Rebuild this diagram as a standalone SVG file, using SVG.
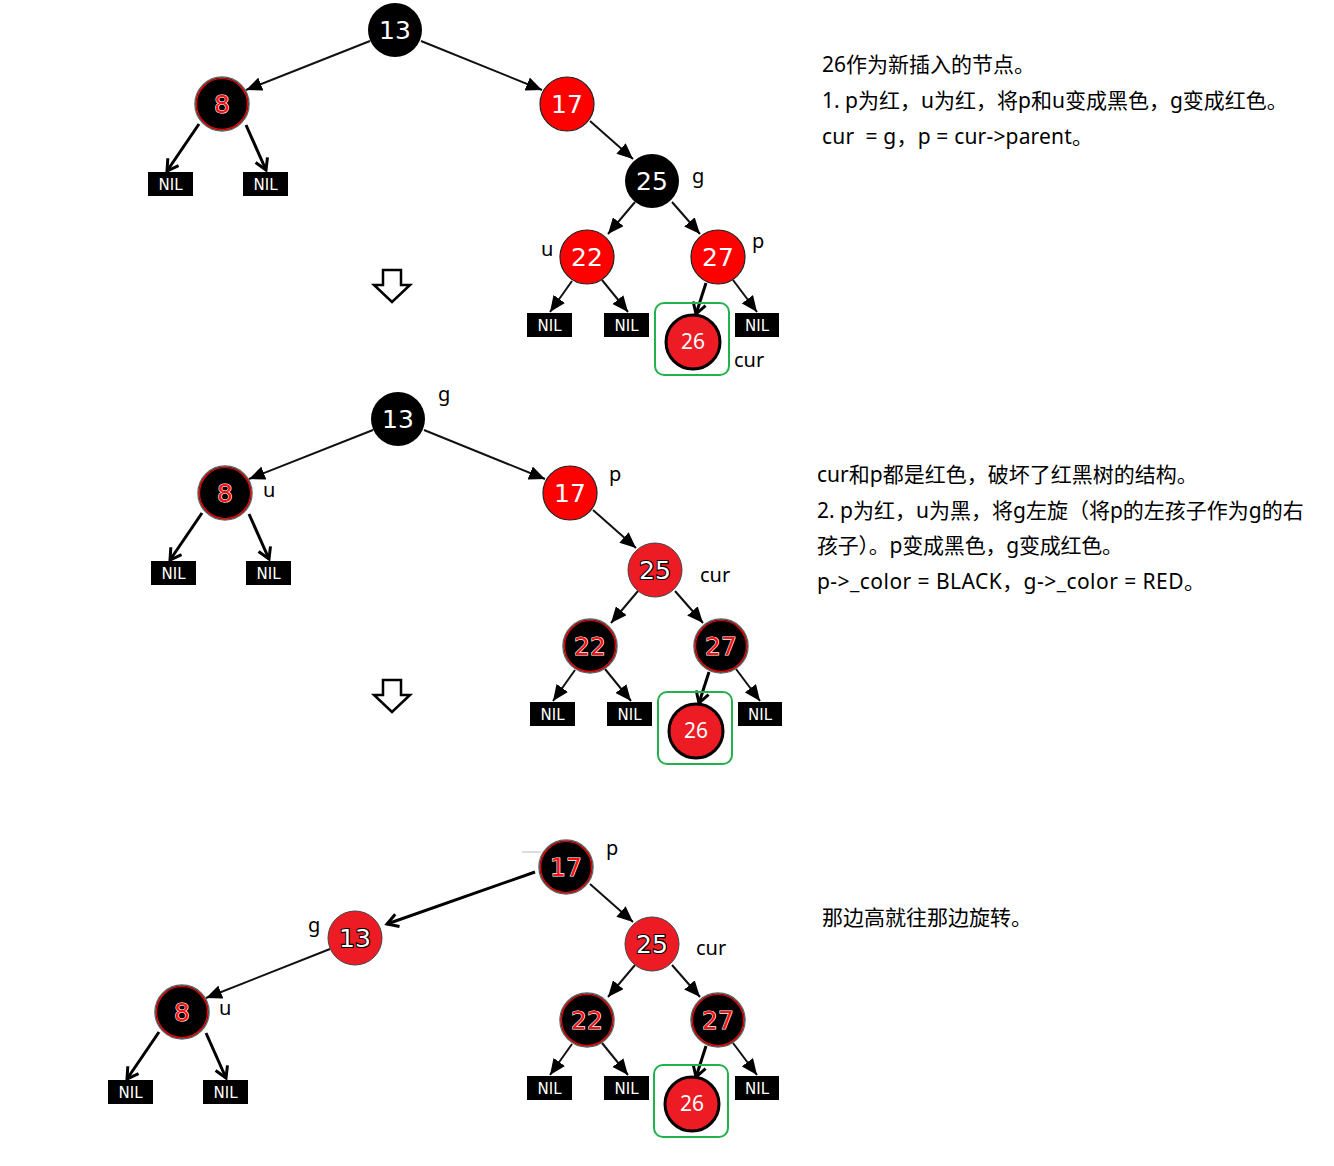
<svg xmlns="http://www.w3.org/2000/svg" width="1334" height="1166" viewBox="0 0 1334 1166">
<style>
.bg{fill:#fff}
.e{stroke:#111;stroke-width:2;fill:none;marker-end:url(#ah)}
.v{stroke:#000;stroke-width:3;fill:none;marker-end:url(#av)}
.nt{font-family:"DejaVu Sans",sans-serif;font-size:25px;text-anchor:middle}
.w{fill:#fff}
.rt{fill:#ff1010;stroke:#fff;stroke-width:1.2;paint-order:stroke}
.ot{fill:#fff;stroke:#000;stroke-width:2.2;paint-order:stroke}
.cA{fill:#000}
.cB{fill:#ff0000;stroke:#222;stroke-width:1.2}
.cC{fill:#000;stroke:#666;stroke-width:1.5}
.ring{fill:none;stroke:#ff0000;stroke-width:1.2}
.cD{fill:#ed1c24;stroke:#444;stroke-width:1}
.cE{fill:#ed1c24;stroke:#000;stroke-width:3}
.t26{font-family:"Noto Sans","DejaVu Sans",sans-serif;font-size:21px;text-anchor:middle;fill:#fff}
.nil{fill:#000}
.nilt{font-family:"DejaVu Sans",sans-serif;font-size:15px;fill:#fff;text-anchor:middle}
.box{fill:none;stroke:#22b14c;stroke-width:2}
.lb{font-family:"Noto Sans","Noto Sans CJK SC",sans-serif;font-size:20px;fill:#000}
.tx{font-family:"Noto Sans","Noto Sans CJK SC",sans-serif;font-size:21px;fill:#000}
.da{fill:#fff;stroke:#000;stroke-width:2.5;stroke-linejoin:miter}
</style>
<defs>
<marker id="ah" markerUnits="userSpaceOnUse" markerWidth="17" markerHeight="14" refX="16" refY="7" orient="auto"><path d="M0,0 L16,7 L0,14 z" fill="#000"/></marker>
<marker id="av" markerUnits="userSpaceOnUse" markerWidth="16" markerHeight="16" refX="13" refY="8" orient="auto"><path d="M2,1.5 L13,8 L2,14.5" fill="none" stroke="#000" stroke-width="3"/></marker>
</defs>
<rect class="bg" x="0" y="0" width="1334" height="1166"/>

<g id="connectors">
  <!-- tree 1 -->
  <line class="e" x1="370" y1="41" x2="246" y2="90"/>
  <line class="e" x1="421" y1="41" x2="542" y2="90"/>
  <line class="v" x1="199" y1="124" x2="167" y2="171"/>
  <line class="v" x1="246" y1="125" x2="266" y2="170"/>
  <line class="e" x1="590" y1="121" x2="633" y2="159"/>
  <line class="e" x1="635" y1="202" x2="608" y2="234"/>
  <line class="e" x1="672" y1="202" x2="700" y2="234"/>
  <line class="e" x1="572" y1="281" x2="550" y2="312"/>
  <line class="e" x1="602" y1="280" x2="628" y2="312"/>
  <line class="v" x1="706" y1="283" x2="696" y2="314"/>
  <line class="e" x1="733" y1="280" x2="757" y2="312"/>
  <!-- tree 2 -->
  <g transform="translate(3,389)">
    <line class="e" x1="370" y1="41" x2="246" y2="90"/>
    <line class="e" x1="421" y1="41" x2="542" y2="90"/>
    <line class="v" x1="199" y1="124" x2="167" y2="171"/>
    <line class="v" x1="246" y1="125" x2="266" y2="170"/>
    <line class="e" x1="590" y1="121" x2="633" y2="159"/>
    <line class="e" x1="635" y1="202" x2="608" y2="234"/>
    <line class="e" x1="672" y1="202" x2="700" y2="234"/>
    <line class="e" x1="572" y1="281" x2="550" y2="312"/>
    <line class="e" x1="602" y1="280" x2="628" y2="312"/>
    <line class="v" x1="706" y1="283" x2="696" y2="314"/>
    <line class="e" x1="733" y1="280" x2="757" y2="312"/>
  </g>
  <!-- tree 3 -->
  <line x1="522" y1="852" x2="541" y2="852" stroke="#bbb" stroke-width="1"/>
  <line class="v" x1="535" y1="872" x2="387" y2="924"/>
  <line class="e" x1="330" y1="949" x2="206" y2="998"/>
  <line class="v" x1="159" y1="1032" x2="127" y2="1079"/>
  <line class="v" x1="206" y1="1033" x2="226" y2="1078"/>
  <g transform="translate(0,763)">
    <line class="e" x1="590" y1="121" x2="633" y2="159"/>
    <line class="e" x1="635" y1="202" x2="608" y2="234"/>
    <line class="e" x1="672" y1="202" x2="700" y2="234"/>
    <line class="e" x1="572" y1="281" x2="550" y2="312"/>
    <line class="e" x1="602" y1="280" x2="628" y2="312"/>
    <line class="v" x1="706" y1="283" x2="696" y2="314"/>
    <line class="e" x1="733" y1="280" x2="757" y2="312"/>
  </g>
</g>

<!-- ===== Tree 1 ===== -->
<g id="t1-13" transform="translate(395,30)"><circle class="cA" r="27"/><text class="nt w" y="9">13</text></g>
<g id="t1-8" transform="translate(222,104)"><circle class="cC" r="27"/><circle class="ring" r="25.5"/><text class="nt rt" y="9">8</text></g>
<g id="t1-17" transform="translate(567,104)"><circle class="cB" r="27"/><text class="nt w" y="9">17</text></g>
<g id="t1-25" transform="translate(652,181)"><circle class="cA" r="27"/><text class="nt w" y="9">25</text></g>
<g id="t1-22" transform="translate(587,257)"><circle class="cB" r="27"/><text class="nt w" y="9">22</text></g>
<g id="t1-27" transform="translate(718,257)"><circle class="cB" r="27"/><text class="nt w" y="9">27</text></g>
<g id="t1-26"><rect class="box" x="655" y="303" width="74" height="72" rx="9"/><circle class="cE" cx="693" cy="342" r="27"/><text class="t26" x="693" y="349">26</text></g>
<g id="t1-nil1"><rect class="nil" x="148" y="172" width="45" height="24"/><text class="nilt" x="170.5" y="190">NIL</text></g>
<g id="t1-nil2"><rect class="nil" x="243" y="172" width="45" height="24"/><text class="nilt" x="265.5" y="190">NIL</text></g>
<g id="t1-nil3"><rect class="nil" x="527" y="313" width="45" height="24"/><text class="nilt" x="549.5" y="331">NIL</text></g>
<g id="t1-nil4"><rect class="nil" x="604" y="313" width="45" height="24"/><text class="nilt" x="626.5" y="331">NIL</text></g>
<g id="t1-nil5"><rect class="nil" x="735" y="313" width="44" height="24"/><text class="nilt" x="757" y="331">NIL</text></g>
<g id="t1-labels">
  <text class="lb" x="692" y="183">g</text>
  <text class="lb" x="541" y="256">u</text>
  <text class="lb" x="752" y="248">p</text>
  <text class="lb" x="734" y="367">cur</text>
</g>

<g id="down1"><polygon class="da" points="383,270 401,270 401,285 410,285 392,302 374,285 383,285"/></g>

<!-- ===== Tree 2 ===== -->
<g id="t2-13" transform="translate(398,419)"><circle class="cA" r="27"/><text class="nt w" y="9">13</text></g>
<g id="t2-8" transform="translate(225,493)"><circle class="cC" r="27"/><circle class="ring" r="25.5"/><text class="nt rt" y="9">8</text></g>
<g id="t2-17" transform="translate(570,493)"><circle class="cB" r="27"/><text class="nt w" y="9">17</text></g>
<g id="t2-25" transform="translate(655,570)"><circle class="cD" r="27"/><text class="nt ot" y="9">25</text></g>
<g id="t2-22" transform="translate(590,646)"><circle class="cC" r="27"/><circle class="ring" r="25.5"/><text class="nt rt" y="9">22</text></g>
<g id="t2-27" transform="translate(721,646)"><circle class="cC" r="27"/><circle class="ring" r="25.5"/><text class="nt rt" y="9">27</text></g>
<g id="t2-26"><rect class="box" x="658" y="692" width="74" height="72" rx="9"/><circle class="cE" cx="696" cy="731" r="27"/><text class="t26" x="696" y="738">26</text></g>
<g id="t2-nil1"><rect class="nil" x="151" y="561" width="45" height="24"/><text class="nilt" x="173.5" y="579">NIL</text></g>
<g id="t2-nil2"><rect class="nil" x="246" y="561" width="45" height="24"/><text class="nilt" x="268.5" y="579">NIL</text></g>
<g id="t2-nil3"><rect class="nil" x="530" y="702" width="45" height="24"/><text class="nilt" x="552.5" y="720">NIL</text></g>
<g id="t2-nil4"><rect class="nil" x="607" y="702" width="45" height="24"/><text class="nilt" x="629.5" y="720">NIL</text></g>
<g id="t2-nil5"><rect class="nil" x="738" y="702" width="44" height="24"/><text class="nilt" x="760" y="720">NIL</text></g>
<g id="t2-labels">
  <text class="lb" x="438" y="401">g</text>
  <text class="lb" x="263" y="497">u</text>
  <text class="lb" x="609" y="481">p</text>
  <text class="lb" x="700" y="582">cur</text>
</g>

<g id="down2"><polygon class="da" points="383,680 401,680 401,695 410,695 392,712 374,695 383,695"/></g>

<!-- ===== Tree 3 ===== -->
<g id="t3-17" transform="translate(566,867)"><circle class="cC" r="27"/><circle class="ring" r="25.5"/><text class="nt rt" y="9">17</text></g>
<g id="t3-13" transform="translate(355,938)"><circle class="cD" r="27"/><text class="nt ot" y="9">13</text></g>
<g id="t3-8" transform="translate(182,1012)"><circle class="cC" r="27"/><circle class="ring" r="25.5"/><text class="nt rt" y="9">8</text></g>
<g id="t3-25" transform="translate(652,944)"><circle class="cD" r="27"/><text class="nt ot" y="9">25</text></g>
<g id="t3-22" transform="translate(587,1020)"><circle class="cC" r="27"/><circle class="ring" r="25.5"/><text class="nt rt" y="9">22</text></g>
<g id="t3-27" transform="translate(718,1020)"><circle class="cC" r="27"/><circle class="ring" r="25.5"/><text class="nt rt" y="9">27</text></g>
<g id="t3-26"><rect class="box" x="654" y="1065" width="74" height="72" rx="9"/><circle class="cE" cx="692" cy="1104" r="27"/><text class="t26" x="692" y="1111">26</text></g>
<g id="t3-nil1"><rect class="nil" x="108" y="1080" width="45" height="24"/><text class="nilt" x="130.5" y="1098">NIL</text></g>
<g id="t3-nil2"><rect class="nil" x="203" y="1080" width="45" height="24"/><text class="nilt" x="225.5" y="1098">NIL</text></g>
<g id="t3-nil3"><rect class="nil" x="527" y="1076" width="45" height="24"/><text class="nilt" x="549.5" y="1094">NIL</text></g>
<g id="t3-nil4"><rect class="nil" x="604" y="1076" width="45" height="24"/><text class="nilt" x="626.5" y="1094">NIL</text></g>
<g id="t3-nil5"><rect class="nil" x="735" y="1076" width="44" height="24"/><text class="nilt" x="757" y="1094">NIL</text></g>
<g id="t3-labels">
  <text class="lb" x="606" y="855">p</text>
  <text class="lb" x="308" y="932">g</text>
  <text class="lb" x="219" y="1015">u</text>
  <text class="lb" x="696" y="955">cur</text>
</g>

<!-- ===== Notes ===== -->
<g id="note1" class="tx">
  <text x="822" y="72">26作为新插入的节点。</text>
  <text x="822" y="108">1. p为红，u为红，将p和u变成黑色，g变成红色。</text>
  <text x="822" y="144" xml:space="preserve" textLength="271" lengthAdjust="spacing">cur  = g，p = cur-&gt;parent。</text>
</g>
<g id="note2" class="tx">
  <text x="817" y="482">cur和p都是红色，破坏了红黑树的结构。</text>
  <text x="817" y="518">2. p为红，u为黑，将g左旋（将p的左孩子作为g的右</text>
  <text x="817" y="553" textLength="306" lengthAdjust="spacing">孩子）。p变成黑色，g变成红色。</text>
  <text x="817" y="589" textLength="388" lengthAdjust="spacing">p-&gt;_color = BLACK，g-&gt;_color = RED。</text>
</g>
<g id="note3" class="tx">
  <text x="822" y="925">那边高就往那边旋转。</text>
</g>
</svg>
